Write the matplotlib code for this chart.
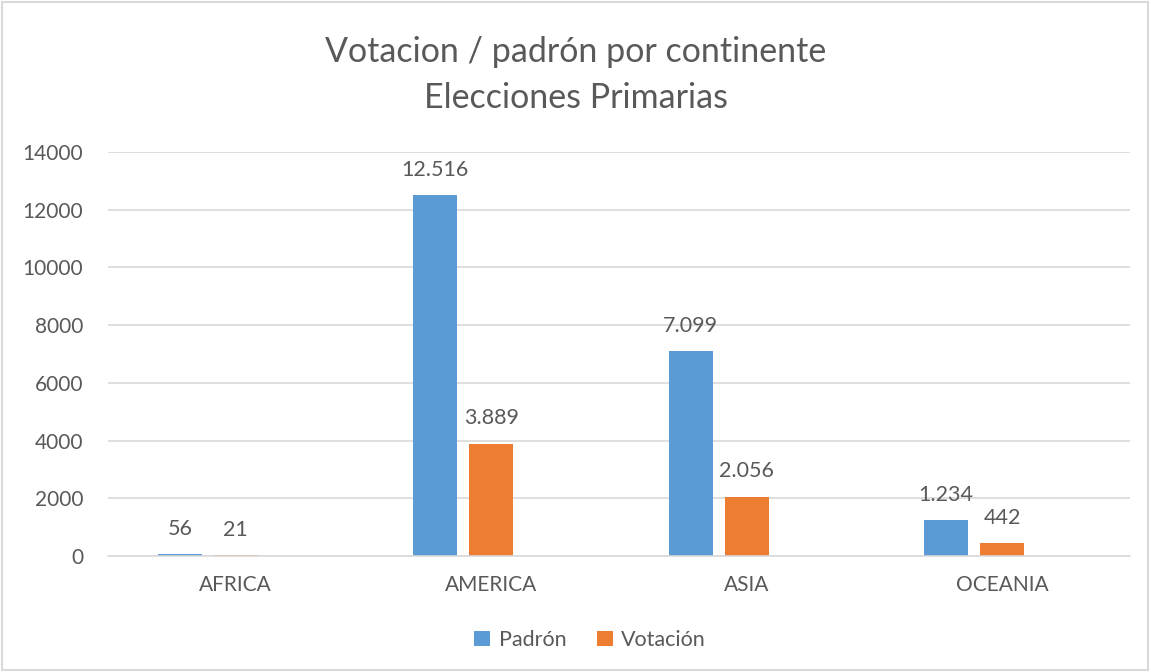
"""Votacion / padron por continente - Elecciones Primarias.

Outputs out.png in the working directory.
"""
import matplotlib.pyplot as plt
from matplotlib.patches import Rectangle

plt.rcParams["font.family"] = ["Lato", "DejaVu Sans"]

continents = ["AFRICA", "AMERICA", "ASIA", "OCEANIA"]
padron = [56, 12516, 7099, 1234]
votacion = [21, 3889, 2056, 442]
yticks = [0, 2000, 4000, 6000, 8000, 10000, 12000, 14000]

BLUE = "#5B9BD5"
ORANGE = "#ED7D31"
TEXT = "#595959"
GRID = "#D9D9D9"


def fmt(v):
    # Spanish thousands separator
    return f"{v:,}".replace(",", ".")


fig = plt.figure(figsize=(11.51, 6.72), dpi=100)
ax = fig.add_axes([108 / 1151, 116 / 672, 1022 / 1151, 404 / 672])

# Excel leaves room for a third (empty) series, so Votación sits on the tick
x = range(len(continents))
w = 0.172
off = 0.219
b1 = ax.bar([i - off for i in x], padron, w, color=BLUE, label="Padrón")
b2 = ax.bar(list(x), votacion, w, color=ORANGE, label="Votación")

for bars, vals in ((b1, padron), (b2, votacion)):
    for r, v in zip(bars, vals):
        ax.annotate(fmt(v), (r.get_x() + r.get_width() / 2, r.get_height()),
                    xytext=(0, 11), textcoords="offset points",
                    ha="center", va="bottom", fontsize=15.5, color=TEXT)

ax.set_xlim(-0.5, 3.5)
ax.set_ylim(0, 14000)
ax.set_yticks(yticks)
ax.set_xticks(list(x))
ax.set_xticklabels(continents)
ax.tick_params(axis="both", length=0, labelsize=15, colors=TEXT)
ax.tick_params(axis="x", pad=14)
ax.tick_params(axis="y", pad=18)
ax.grid(axis="y", color=GRID, linewidth=1.2)
ax.set_axisbelow(True)
for s in ("left", "right", "top"):
    ax.spines[s].set_visible(False)
ax.spines["bottom"].set_color(GRID)
ax.spines["bottom"].set_linewidth(1.2)

fig.text(0.5, 1 - 52 / 672, "Votacion / padrón por continente", ha="center",
         va="center", fontsize=24.5, color=TEXT)
fig.text(0.5, 1 - 98 / 672, "Elecciones Primarias", ha="center",
         va="center", fontsize=24.5, color=TEXT)

fig.legend(loc="center", bbox_to_anchor=(590 / 1151, 1 - 640 / 672), ncol=2,
           frameon=False, fontsize=15.5, labelcolor=TEXT, handlelength=0.75,
           handleheight=0.75, handletextpad=0.4, columnspacing=1.4)

fig.patches.append(Rectangle((2 / 1151, 2 / 672), 1146 / 1151, 668 / 672,
                             transform=fig.transFigure, fill=False,
                             edgecolor=GRID, linewidth=1.5))

plt.savefig("out.png", dpi=100)
